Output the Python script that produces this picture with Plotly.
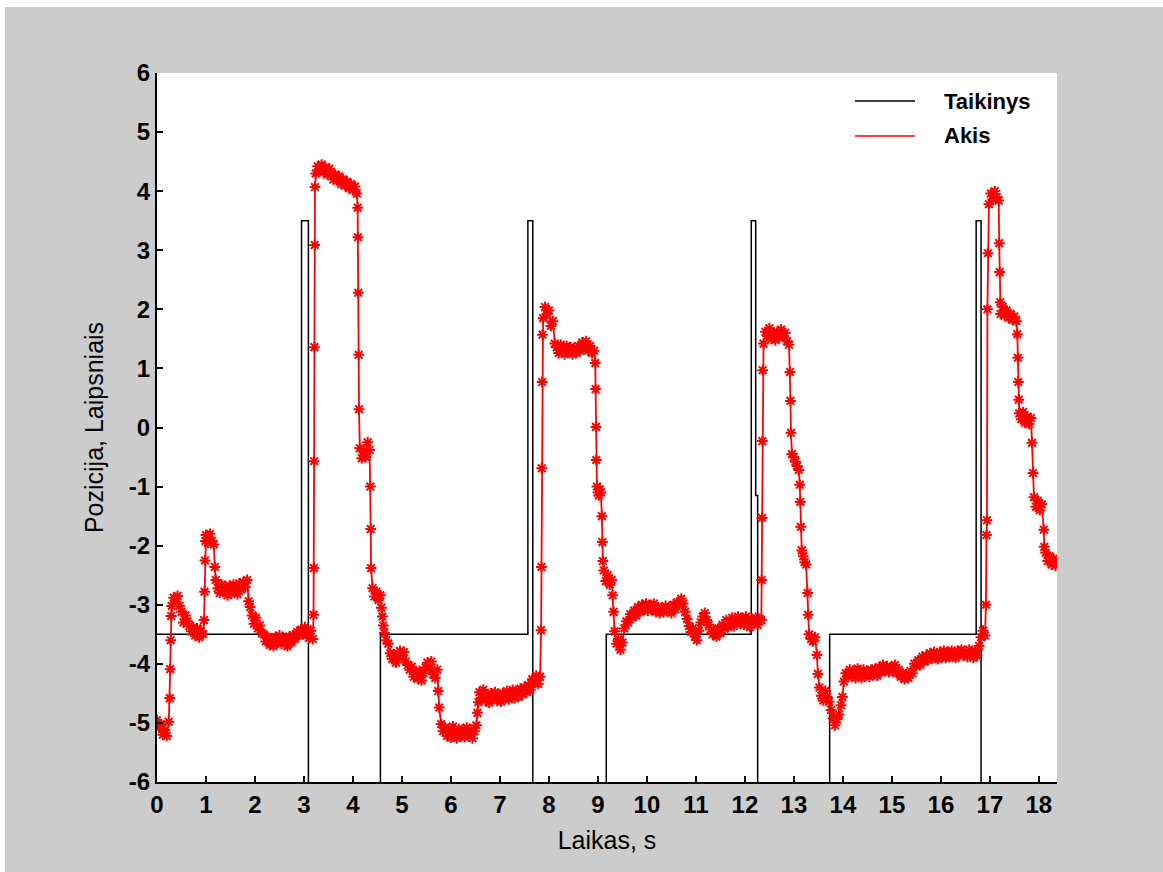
import plotly.graph_objects as go

# ---------------------------------------------------------------------------
# Target position (Taikinys), degrees: value holds from each time until the next
taikinys_t = [0.0, 2.95, 3.09, 4.56, 7.57, 7.67, 9.17, 12.13, 12.22, 12.26, 13.73, 16.72, 16.82, 18.4]
taikinys_y = [-3.5, 3.5, -7.0, -3.5, 3.5, -7.0, -3.5, 3.5, -1.15, -7.0, -3.5, 3.5, -7.0, -7.0]

# Eye recording (Akis): sampling blocks as (start time s, step s, sample count)
akis_blocks = [
    (0.00, 0.04, 7), (0.26, 0.01, 4), (0.30, 0.04, 17), (0.96, 0.01, 4),
    (1.00, 0.04, 5), (1.18, 0.02, 1), (1.20, 0.04, 17), (1.87, 0.03, 2),
    (1.94, 0.04, 6), (2.18, 0.04, 26), (3.195, 0.006, 6), (3.24, 0.04, 22),
    (4.095, 0.007, 5), (4.14, 0.04, 6), (4.355, 0.007, 3), (4.40, 0.04, 5),
    (4.58, 0.02, 3), (4.64, 0.04, 28), (5.74, 0.02, 2), (5.80, 0.04, 19),
    (6.54, 0.02, 2), (6.58, 0.04, 32), (7.84, 0.007, 5), (7.88, 0.04, 27),
    (8.945, 0.007, 4), (8.98, 0.02, 5), (9.08, 0.01, 3), (9.12, 0.04, 5),
    (9.30, 0.02, 2), (9.34, 0.04, 5), (9.54, 0.04, 70), (12.335, 0.007, 5),
    (12.38, 0.04, 14), (12.92, 0.01, 3), (12.96, 0.035, 5), (13.12, 0.01, 3),
    (13.16, 0.03, 4), (13.28, 0.01, 2), (13.31, 0.04, 4), (13.47, 0.02, 2),
    (13.52, 0.04, 12), (13.99, 0.03, 1), (14.02, 0.04, 73), (16.92, 0.01, 5),
    (16.98, 0.04, 6), (17.19, 0.01, 3), (17.22, 0.04, 9), (17.56, 0.01, 4),
    (17.60, 0.04, 7), (17.86, 0.02, 2), (17.90, 0.04, 5), (18.10, 0.01, 2),
    (18.14, 0.04, 7),
]

# Eye position, degrees, one value per sample in the blocks above
akis_y = [
    -4.95, -5.08, -5.02, -5.20, -5.12, -5.22, -4.98,
    -4.58, -4.09, -3.60, -3.19,
    -3.02, -2.88, -2.95, -2.85, -3.02, -3.12, -3.30, -3.18, -3.28, -3.36, -3.45, -3.38, -3.52, -3.40, -3.55, -3.44, -3.50,
    -3.26, -2.78, -2.25, -1.92,
    -1.82, -1.95, -1.80, -1.92, -1.98,
    -2.36,
    -2.58, -2.72, -2.80, -2.66, -2.78, -2.70, -2.84, -2.68, -2.80, -2.66, -2.76, -2.82, -2.64, -2.74, -2.62, -2.70, -2.58,
    -2.94, -3.04,
    -3.18, -3.32, -3.22, -3.40, -3.35, -3.48,
    -3.50, -3.62, -3.55, -3.68, -3.58, -3.70, -3.55, -3.64, -3.52, -3.66, -3.56, -3.62, -3.70,
    -3.54, -3.64, -3.52, -3.58, -3.46, -3.52, -3.42, -3.50, -3.38, -3.48, -3.56, -3.44, -3.58,
    -3.17, -2.38, -0.57, 1.36, 3.09, 4.07,
    4.30, 4.42, 4.36, 4.45, 4.32, 4.40, 4.28, 4.38, 4.30, 4.20, 4.28, 4.18, 4.25, 4.12, 4.20, 4.10,
    4.16, 4.05, 4.12, 4.02, 4.08, 3.96,
    3.72, 3.22, 2.28, 1.23, 0.31,
    -0.35, -0.52, -0.40, -0.50, -0.25, -0.38,
    -1.00, -1.72, -2.38,
    -2.72, -2.86, -2.78, -2.92, -2.84,
    -3.05, -3.20, -3.35,
    -3.48, -3.60, -3.66, -3.82, -3.92, -3.84, -3.98, -3.86, -3.78, -3.90, -3.80, -3.96, -4.02, -4.10,
    -4.05, -4.22, -4.14, -4.25, -4.12, -4.28, -4.16, -4.06, -3.98, -4.08, -3.96, -4.18, -4.24, -4.10,
    -4.46, -4.74,
    -5.02, -5.14, -5.08, -5.22, -5.12, -5.25, -5.06, -5.18, -5.26, -5.10, -5.20, -5.12, -5.24, -5.08,
    -5.18, -5.12, -5.26, -5.14, -5.04,
    -4.83, -4.65,
    -4.48, -4.58, -4.44, -4.62, -4.52, -4.66, -4.50, -4.60, -4.48, -4.62, -4.54, -4.64, -4.50, -4.58,
    -4.46, -4.60, -4.52, -4.44, -4.58, -4.48, -4.56, -4.42, -4.52, -4.40, -4.48, -4.36, -4.44, -4.26,
    -4.32, -4.20, -4.34, -4.22,
    -3.43, -2.36, -0.69, 0.77, 1.57,
    1.85, 2.04, 1.92, 1.98, 1.72, 1.80, 1.42, 1.36, 1.26, 1.40, 1.30, 1.24, 1.38, 1.28, 1.36, 1.24,
    1.34, 1.26, 1.38, 1.30, 1.44, 1.36, 1.46, 1.30, 1.38, 1.26, 1.30,
    1.09, 0.65, 0.01, -0.55,
    -1.00, -1.10, -1.15, -1.05, -1.10,
    -1.50, -1.94, -2.26,
    -2.42, -2.60, -2.50, -2.66, -2.58,
    -2.84, -3.12,
    -3.45, -3.66, -3.58, -3.76, -3.64,
    -3.40, -3.28, -3.30, -3.16, -3.22, -3.10, -3.18, -3.04, -3.12, -3.00, -3.08, -2.98, -3.10, -3.02,
    -3.08, -2.98, -3.12, -3.04, -3.14, -3.06, -3.12, -3.02, -3.10, -3.04, -3.14, -3.00, -3.08, -2.96,
    -3.00, -2.90, -2.98, -3.12, -3.24,
    -3.36, -3.46, -3.40, -3.54, -3.60, -3.44, -3.30, -3.20, -3.14, -3.26, -3.34, -3.42, -3.50, -3.44,
    -3.54, -3.40, -3.48, -3.34, -3.40,
    -3.26, -3.38, -3.30, -3.22, -3.36, -3.28, -3.20, -3.32, -3.24, -3.34, -3.20, -3.30, -3.38, -3.24,
    -3.30, -3.22, -3.34, -3.24,
    -3.26, -2.58, -1.53, -0.23, 0.97,
    1.42, 1.62, 1.55, 1.68, 1.50, 1.60, 1.48, 1.62, 1.52, 1.66, 1.54, 1.60, 1.46, 1.40,
    0.94, 0.45, -0.09,
    -0.45, -0.50, -0.58, -0.65, -0.72,
    -0.97, -1.26, -1.68,
    -2.08, -2.18, -2.28, -2.32,
    -2.80, -3.17,
    -3.50, -3.58, -3.62, -3.55,
    -3.85, -4.17,
    -4.40, -4.54, -4.62, -4.46, -4.56, -4.64, -4.78, -4.92, -5.04, -4.94, -4.86, -4.70,
    -4.56,
    -4.30, -4.16, -4.22, -4.10, -4.20, -4.12, -4.24, -4.08, -4.18, -4.24, -4.10, -4.20, -4.12, -4.22,
    -4.10, -4.18, -4.08, -4.20, -4.06, -4.14, -4.02, -4.12, -4.04, -4.14, -4.06, -4.12, -4.02, -4.16,
    -4.10, -4.22, -4.16, -4.26, -4.18, -4.24, -4.12, -4.16, -4.00, -4.04, -3.94, -4.02, -3.88, -3.96,
    -3.86, -3.94, -3.82, -3.90, -3.80, -3.88, -3.92, -3.80, -3.86, -3.78, -3.90, -3.80, -3.88, -3.78,
    -3.86, -3.90, -3.78, -3.84, -3.76, -3.86, -3.80, -3.88, -3.76, -3.84, -3.90, -3.78, -3.86, -3.70,
    -3.55, -3.44, -3.52,
    -3.00, -1.82, -1.57, 2.00, 2.95,
    3.78, 3.96, 3.86, 4.00, 3.90, 3.84,
    3.12, 2.63, 2.12,
    1.92, 2.04, 1.90, 1.98, 1.86, 1.92, 1.82, 1.88, 1.80,
    1.58, 1.18, 0.77, 0.47,
    0.24, 0.14, 0.26, 0.08, 0.18, 0.06, 0.16,
    -0.26, -0.77,
    -1.18, -1.34, -1.24, -1.40, -1.30,
    -1.73, -2.02,
    -2.12, -2.26, -2.18, -2.32, -2.22, -2.34, -2.26,
]

x_ticks = list(range(0, 19))
y_ticks = list(range(-6, 7))

# Sample times from the block description
akis_t = []
for start, step, count in akis_blocks:
    akis_t.extend(round(start + i * step, 4) for i in range(count))
assert len(akis_t) == len(akis_y), (len(akis_t), len(akis_y))

# ---------------------------------------------------------------------------
W, H = 1163, 872
PL, PR, PT, PB = 157, 1057, 73, 782          # plot area in pixels


def fx(px):
    return (px - PL) / (PR - PL)


def fy(py):
    return (PB - py) / (PB - PT)


FONT = "Liberation Sans, Arial, sans-serif"
GREY = "#cccccc"

fig = go.Figure()

fig.add_trace(go.Scatter(
    x=taikinys_t, y=taikinys_y, mode="lines", name="Taikinys",
    line=dict(color="black", width=1.5, shape="hv"),
    showlegend=False,
))

fig.add_trace(go.Scatter(
    x=akis_t, y=akis_y, mode="lines+markers", name="Akis",
    line=dict(color="#ff0000", width=1.8),
    marker=dict(symbol="asterisk-open", size=9, color="#ff0000",
                line=dict(color="#ff0000", width=2)),
    showlegend=False,
))

axis_common = dict(
    showgrid=False, zeroline=False, showline=True, linecolor="black", linewidth=2,
    ticks="inside", ticklen=6, tickwidth=2, tickcolor="black", mirror=False,
    tickfont=dict(family=FONT, size=24, color="black", weight="bold"),
)

fig.update_xaxes(
    range=[0, 18.37], tickvals=x_ticks, ticktext=[str(v) for v in x_ticks],
    title=dict(text="Laikas, s", font=dict(family=FONT, size=25, color="black"), standoff=15),
    **axis_common,
)
fig.update_yaxes(
    range=[-6, 6], tickvals=y_ticks, ticktext=[str(v) for v in y_ticks],
    title=dict(text="Pozicija, Laipsniais", font=dict(family=FONT, size=25, color="black"), standoff=18),
    **axis_common,
)

shapes = [
    # grey figure background with a thin white strip along top and left
    dict(type="rect", xref="paper", yref="paper", layer="below",
         x0=fx(5), x1=fx(W + 5), y0=fy(H + 5), y1=fy(7),
         fillcolor=GREY, line=dict(width=0)),
    # white axes area
    dict(type="rect", xref="paper", yref="paper", layer="below",
         x0=0, x1=1, y0=0, y1=1, fillcolor="white", line=dict(width=0)),
    # legend line samples
    dict(type="line", xref="paper", yref="paper",
         x0=fx(855), x1=fx(915), y0=fy(101), y1=fy(101),
         line=dict(color="black", width=1.5)),
    dict(type="line", xref="paper", yref="paper",
         x0=fx(855), x1=fx(915), y0=fy(136), y1=fy(136),
         line=dict(color="#ff0000", width=1.5)),
]

annotations = [
    dict(text="Taikinys", xref="paper", yref="paper", x=fx(942), y=fy(101),
         xanchor="left", yanchor="middle", showarrow=False,
         font=dict(family=FONT, size=22, color="black", weight="bold")),
    dict(text="Akis", xref="paper", yref="paper", x=fx(942), y=fy(136),
         xanchor="left", yanchor="middle", showarrow=False,
         font=dict(family=FONT, size=22, color="black", weight="bold")),
]

fig.update_layout(
    width=W, height=H,
    margin=dict(l=PL, r=W - PR, t=PT, b=H - PB, pad=0),
    paper_bgcolor="white", plot_bgcolor="rgba(0,0,0,0)",
    shapes=shapes, annotations=annotations,
    showlegend=False,
    font=dict(family=FONT, color="black"),
)

fig.write_html("out.html")
